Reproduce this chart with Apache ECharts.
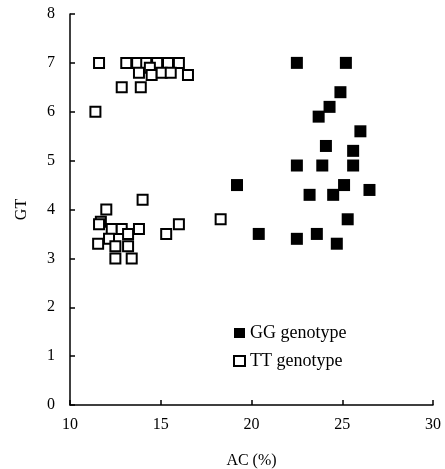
<!DOCTYPE html>
<html lang="en">
<head>
    <meta charset="utf-8">
    <script src="https://cdn.jsdelivr.net/npm/echarts@6/dist/echarts.min.js"></script>
    <style>
        html, body { margin: 0; padding: 0; background: #fff; }
        #chart { width: 445px; height: 469px; }
    </style>
</head>
<body>
<div id="chart"></div>
<script>
    // GG genotype: [AC (%), GT]
    var ggData = [
        [22.5, 7.0], [25.2, 7.0], [24.9, 6.4], [24.3, 6.1], [23.7, 5.9],
        [26.0, 5.6], [24.1, 5.3], [25.6, 5.2], [22.5, 4.9], [23.9, 4.9],
        [25.6, 4.9], [19.2, 4.5], [25.1, 4.5], [26.5, 4.4], [23.2, 4.3],
        [24.5, 4.3], [25.3, 3.8], [20.4, 3.5], [23.6, 3.5], [22.5, 3.4],
        [24.7, 3.3]
    ];
    // TT genotype
    var ttData = [
        [11.6, 7.0], [13.1, 7.0], [13.7, 7.0], [14.2, 7.0], [14.8, 7.0],
        [15.4, 7.0], [16.0, 7.0], [14.4, 6.9], [13.8, 6.8], [14.5, 6.75],
        [15.05, 6.8], [15.55, 6.8], [16.5, 6.75], [12.85, 6.5], [13.9, 6.5],
        [11.4, 6.0],
        [14.0, 4.2], [12.0, 4.0], [11.7, 3.75], [11.6, 3.7], [12.3, 3.6],
        [12.85, 3.6], [13.8, 3.6], [13.2, 3.5], [12.15, 3.4], [11.55, 3.3],
        [12.5, 3.25], [13.2, 3.25], [12.5, 3.0], [13.4, 3.0], [15.3, 3.5],
        [16.0, 3.7], [18.3, 3.8]
    ];
    var xTicks = [10, 30, 5];
    var yTicks = [0, 8, 1];

    var font = 'Liberation Serif';
    var chart = echarts.init(document.getElementById('chart'));

    var option = {
        animation: false,
        textStyle: { fontFamily: font },
        grid: { left: 70, right: 12, top: 14, bottom: 64, containLabel: false, outerBoundsMode: 'none' },
        legend: {
            orient: 'vertical',
            left: 228,
            top: 319,
            itemGap: 10,
            itemWidth: 11,
            itemHeight: 10,
            textStyle: { fontFamily: font, fontSize: 18, color: '#000' },
            data: [
                { name: 'GG genotype', icon: 'rect' },
                { name: 'TT genotype', icon: 'rect' }
            ]
        },
        xAxis: {
            type: 'value',
            min: xTicks[0], max: xTicks[1], interval: xTicks[2],
            name: 'AC (%)',
            nameLocation: 'middle',
            nameGap: 48,
            nameTextStyle: { fontFamily: font, fontSize: 16, color: '#000' },
            axisLine: { lineStyle: { color: '#000', width: 1.5 } },
            axisTick: { inside: true, length: 5, lineStyle: { color: '#000', width: 1.5 } },
            axisLabel: { fontFamily: font, fontSize: 16, color: '#000', margin: 12 },
            splitLine: { show: false }
        },
        yAxis: {
            type: 'value',
            min: yTicks[0], max: yTicks[1], interval: yTicks[2],
            name: 'GT',
            nameLocation: 'middle',
            nameGap: 40,
            nameTextStyle: { fontFamily: font, fontSize: 16, color: '#000' },
            axisLine: { show: true, lineStyle: { color: '#000', width: 1.5 } },
            axisTick: { show: true, inside: true, length: 5, lineStyle: { color: '#000', width: 1.5 } },
            axisLabel: { fontFamily: font, fontSize: 16, color: '#000', margin: 15 },
            splitLine: { show: false }
        },
        series: [
            {
                name: 'GG genotype',
                type: 'scatter',
                symbol: 'rect',
                symbolSize: 12,
                itemStyle: { color: '#000', opacity: 1 },
                data: ggData
            },
            {
                name: 'TT genotype',
                type: 'scatter',
                symbol: 'rect',
                symbolSize: 10,
                itemStyle: { color: '#fff', borderColor: '#000', borderWidth: 2, opacity: 1 },
                data: ttData
            }
        ]
    };

    chart.setOption(option);
</script>
</body>
</html>
